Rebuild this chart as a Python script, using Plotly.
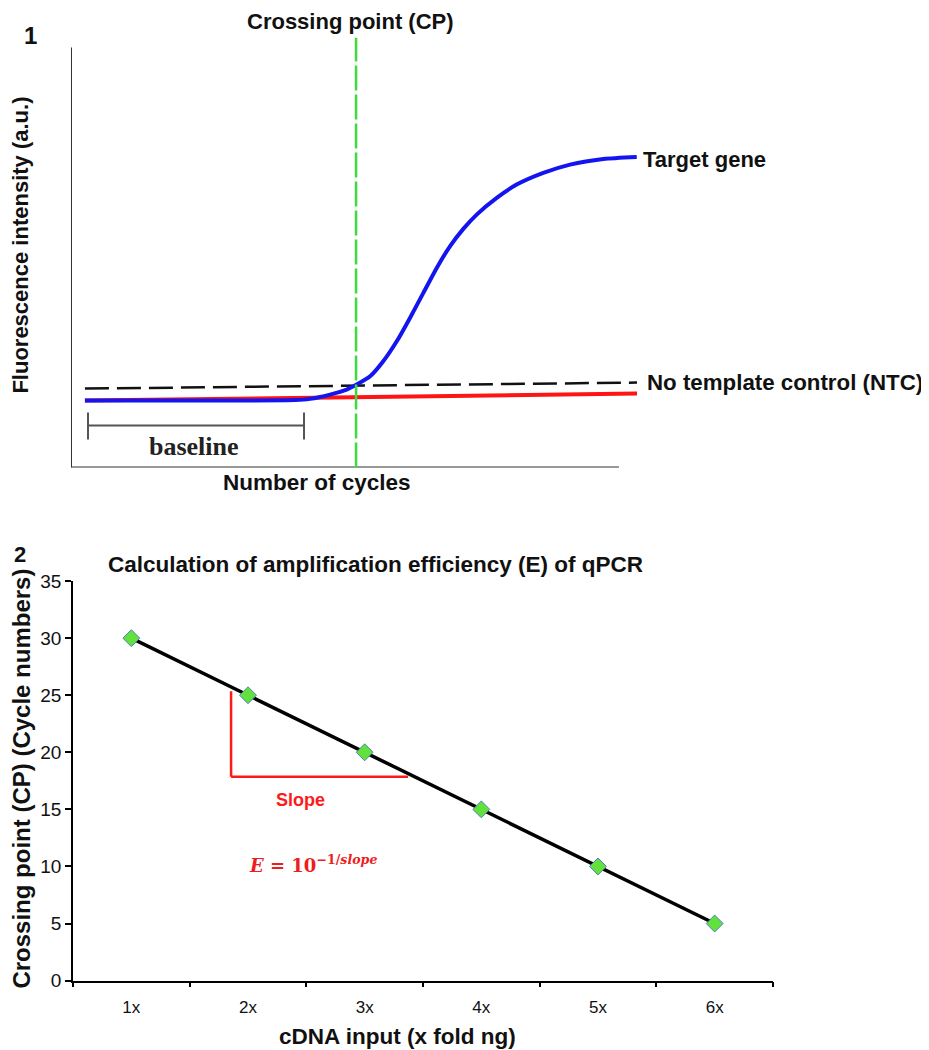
import numpy as np
import plotly.graph_objects as go

W, H = 929, 1050
# placement calibration (page offset / vertical scale observed in the rendered picture)
X_OFF = 8
Y_OFF, Y_SCALE = 18.4, 0.98

# ---------------- Panel 1 data (cycles vs fluorescence, a.u.) ----------------
target_cycles = [0.98, 9.07, 15.75, 16.80, 18.21, 19.38, 20.08, 21.03, 21.95, 22.90, 23.83,
                 24.77, 25.71, 26.64, 27.58, 28.52, 29.93, 31.33, 33.20, 35.08, 37.42, 39.77]
target_fluor = [15.58, 15.58, 15.70, 15.98, 16.98, 18.14, 19.30, 21.23, 24.72, 29.37, 34.81,
                40.63, 46.44, 51.47, 55.51, 58.84, 62.72, 65.81, 68.53, 70.47, 71.79, 72.26]
ntc_cycles = [0.98, 39.79]
ntc_fluor = [18.37, 19.77]
red_cycles = [0.98, 39.79]
red_fluor = [15.58, 17.21]
cp_cycle = 20.04
baseline_range = [1.195, 16.38]
baseline_level = 9.77
baseline_tick = [6.51, 12.79]
axis1_xmax = 38.52
axis1_ymax = 97.67

# ---------------- Panel 2 data ----------------
categories = ["1x", "2x", "3x", "4x", "5x", "6x"]
cp_values = [30, 25, 20, 15, 10, 5]
y2_ticks = [0, 5, 10, 15, 20, 25, 30, 35]
slope_tri_x = [0.855, 2.372]
slope_tri_y = [17.87, 25.35]

FONT = "Arial, Liberation Sans, sans-serif"


def px(xp):
    return (xp - X_OFF) / W


def py(yp):
    return 1 - ((yp - Y_OFF) / Y_SCALE) / H


fig = go.Figure()

# Panel 1 traces
fig.add_trace(go.Scatter(x=red_cycles, y=red_fluor, mode="lines",
                         line=dict(color="#ff1414", width=4), xaxis="x", yaxis="y",
                         showlegend=False, hoverinfo="skip"))
fig.add_trace(go.Scatter(x=ntc_cycles, y=ntc_fluor, mode="lines",
                         line=dict(color="#111111", width=2.5, dash="24px,8px"),
                         xaxis="x", yaxis="y", showlegend=False, hoverinfo="skip"))
fig.add_trace(go.Scatter(x=target_cycles, y=target_fluor, mode="lines",
                         line=dict(color="#1414f0", width=4, shape="spline", smoothing=0.6),
                         xaxis="x", yaxis="y", showlegend=False, hoverinfo="skip"))

# Panel 2 traces
xi = np.arange(len(categories))
slope, intercept = np.polyfit(xi, cp_values, 1)
fit_y = slope * xi + intercept
fig.add_trace(go.Scatter(x=categories, y=fit_y, mode="lines",
                         line=dict(color="#000000", width=3.5),
                         xaxis="x2", yaxis="y2", showlegend=False, hoverinfo="skip"))
fig.add_trace(go.Scatter(x=categories, y=cp_values, mode="markers",
                         marker=dict(symbol="diamond", size=13, color="#62e03c",
                                     line=dict(color="#4f81bd", width=1)),
                         cliponaxis=False,
                         xaxis="x2", yaxis="y2", showlegend=False))

shapes = []
# Panel 1 axes lines
shapes.append(dict(type="line", xref="x", yref="y", x0=0, x1=0, y0=0, y1=axis1_ymax,
                   line=dict(color="#333333", width=2)))
shapes.append(dict(type="line", xref="x", yref="y", x0=0, x1=axis1_xmax, y0=0, y1=0,
                   line=dict(color="#333333", width=2)))
# Crossing point vertical line
shapes.append(dict(type="line", xref="x", yref="y", x0=cp_cycle, x1=cp_cycle, y0=0, y1=100,
                   line=dict(color="#3ddc3d", width=2.5, dash="25px,4px")))
# Baseline bracket
bl_col = "#555555"
shapes.append(dict(type="line", xref="x", yref="y", x0=baseline_range[0], x1=baseline_range[1],
                   y0=baseline_level, y1=baseline_level, line=dict(color=bl_col, width=2)))
for bx in baseline_range:
    shapes.append(dict(type="line", xref="x", yref="y", x0=bx, x1=bx,
                       y0=baseline_tick[0], y1=baseline_tick[1], line=dict(color=bl_col, width=2)))
# Slope triangle (panel 2)
shapes.append(dict(type="line", xref="x2", yref="y2", x0=slope_tri_x[0], x1=slope_tri_x[0],
                   y0=slope_tri_y[0], y1=slope_tri_y[1], line=dict(color="#ff1a1a", width=2.5)))
shapes.append(dict(type="line", xref="x2", yref="y2", x0=slope_tri_x[0], x1=slope_tri_x[1],
                   y0=slope_tri_y[0], y1=slope_tri_y[0], line=dict(color="#ff1a1a", width=2.5)))


def ann(text, x, y, size, xanchor="center", angle=0, bold=True, color="#111111", family=FONT):
    t = f"<b>{text}</b>" if bold else text
    return dict(text=t, x=px(x), y=py(y), xref="paper", yref="paper", showarrow=False,
                xanchor=xanchor, yanchor="middle", textangle=angle,
                font=dict(family=family, size=size, color=color))


annotations = [
    ann("1", 30, 36, 24),
    ann("Crossing point (CP)", 350, 22, 22),
    ann("Fluorescence intensity (a.u.)", 21, 246, 22, angle=-90),
    ann("Number of cycles", 317, 483, 22.5),
    ann("Target gene", 641, 160, 22, xanchor="left"),
    ann("No template control (NTC)", 645, 383, 22.3, xanchor="left"),
    ann("2", 20, 555, 22),
    ann("Calculation of amplification efficiency (E) of qPCR", 375, 565, 22.5),
    ann("Crossing point (CP) (Cycle numbers)", 22, 779, 24, angle=-90),
    ann("cDNA input (x fold ng)", 397, 1037, 22.5),
    dict(text="<b>baseline</b>", x=8.65, y=5.0, xref="x", yref="y", showarrow=False,
         font=dict(family="Liberation Serif, Times New Roman, serif", size=26, color="#222222")),
    dict(text="<b>Slope</b>", x=1.446, y=15.86, xref="x2", yref="y2", showarrow=False,
         font=dict(family=FONT, size=18, color="#ff1a1a")),
    dict(text="<b><i>E</i> = 10<sup>−1/<i>slope</i></sup></b>", x=1.558, y=10.2,
         xref="x2", yref="y2", showarrow=False,
         font=dict(family="DejaVu Serif, Liberation Serif, serif", size=18, color="#ee1c1c")),
]

fig.update_layout(
    width=W, height=H,
    margin=dict(l=0, r=0, t=0, b=0),
    paper_bgcolor="white", plot_bgcolor="white",
    xaxis=dict(domain=[px(71), px(640)], range=[0, 40], visible=False, fixedrange=True),
    yaxis=dict(domain=[py(468), py(38)], range=[0, 100], visible=False, fixedrange=True),
    xaxis2=dict(domain=[px(73), px(773)], anchor="y2", type="category",
                range=[-0.5, 5.5], tickson="boundaries", ticks="outside", ticklen=5,
                tickcolor="#000", tickwidth=1.5,
                showline=True, linecolor="#000", linewidth=1.5, showgrid=False,
                ticklabelstandoff=10,
                tickfont=dict(family=FONT, size=17, color="#111")),
    yaxis2=dict(domain=[py(981), py(581.5)], anchor="x2", range=[0, 35],
                tickvals=y2_ticks, ticks="outside", ticklen=6, tickcolor="#000", tickwidth=1.5,
                showline=True, linecolor="#000", linewidth=1.5, showgrid=False,
                zeroline=False, tickfont=dict(family=FONT, size=19, color="#111")),
    shapes=shapes,
    annotations=annotations,
)

fig.write_html("out.html")
